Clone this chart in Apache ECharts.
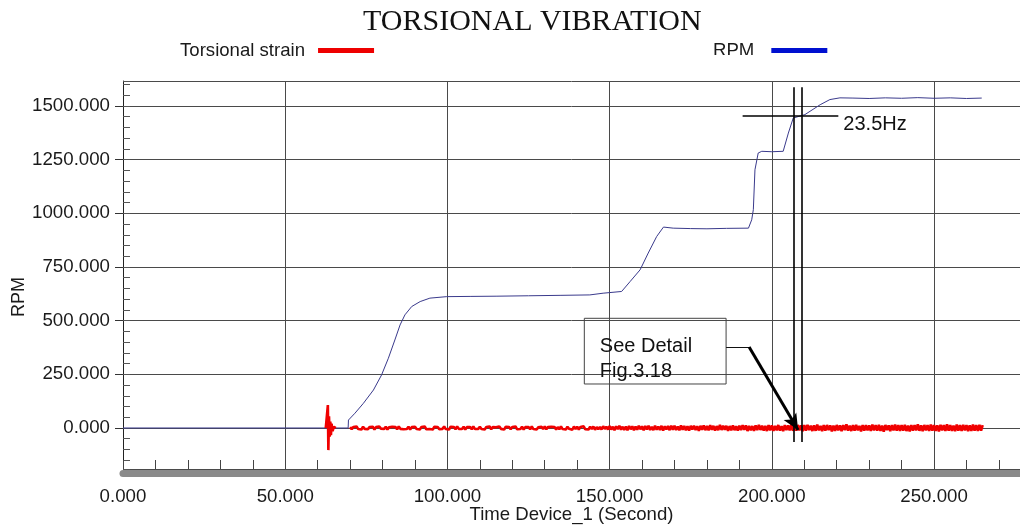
<!DOCTYPE html>
<html>
<head>
<meta charset="utf-8">
<script src="https://cdn.jsdelivr.net/npm/echarts@6/dist/echarts.min.js"></script>
<style>
html,body{margin:0;padding:0;background:#fff;}
#chart{width:1020px;height:527px;}
</style>
</head>
<body>
<div id="chart"></div>
<script>
// ---------- data ----------
const chartTitle = 'TORSIONAL VIBRATION';
const seriesNames = ['Torsional strain', 'RPM'];
const xAxisName = 'Time Device_1 (Second)';
const yAxisName = 'RPM';

// RPM trace: time (s) and speed
const rpmTime = [0, 69.4, 69.5, 71.5, 74.1, 77.2, 79.7, 81.8, 83.8, 85.4, 86.9, 89.0, 91.6, 94.6, 99.8,
  107, 115, 125, 135, 143.9, 148, 153.7, 156.3, 159.4, 161.9, 164.5, 166.6, 169.6, 175, 180, 186,
  192.8, 193.8, 194.3, 194.8, 195.8, 196.9, 200, 203.5, 205.1, 206.6, 210.2, 214.9, 217.9, 221,
  225, 230, 235, 240, 245, 250, 255, 260, 264.7];
const rpmValue = [0, 0, 37, 69, 115, 177, 247, 325, 410, 480, 527, 566, 589, 605, 612,
  613, 614, 616, 618, 620, 628, 636, 682, 737, 815, 892, 936, 931, 929, 928, 930,
  931, 970, 1017, 1203, 1281, 1289, 1287, 1289, 1374, 1444, 1460, 1506, 1530, 1538,
  1537, 1535, 1538, 1536, 1539, 1536, 1538, 1535, 1537];

// Torsional strain: start-up spike
const strainSpikeTime = [62.5, 63.0, 63.15, 63.3, 63.5, 63.7, 63.9, 64.1, 64.3, 64.6, 65.0, 65.6];
const strainSpikeValue = [0, 0, 107, -103, 55, -40, 30, -33, 20, -15, 6, 0];
// Torsional strain: sampled every 0.5 s from 70 s
const strainNoiseStart = 70;
const strainNoiseStep = 0.5;
const strainNoise = [
  4,-6,5,-3,7,-5,2,-7,6,-4,3,-6,5,-2,6,-7,4,-5,7,-3,
  5,-4,6,-7,3,-5,6,-2,4,-6,7,-4,5,-6,2,-5,6,-7,4,-3,
  6,-5,3,-7,5,-4,7,-6,2,-5,4,-7,6,-3,5,-6,3,-4,7,-5,
  4,-7,6,-3,5,-6,7,-4,3,-5,6,-7,4,-2,5,-6,7,-5,3,-4,
  6,-5,4,-7,5,-3,7,-6,4,-5,3,-6,7,-4,5,-7,6,-3,4,-6,
  5,-4,7,-6,3,-5,6,-7,4,-3,5,-6,7,-5,4,-7,3,-4,6,-5,
  7,-6,4,-5,6,-3,5,-7,4,-6,8,-5,3,-7,6,-4,5,-8,7,-5,
  6,-7,5,-4,8,-6,3,-7,6,-5,7,-8,4,-6,5,-7,8,-4,6,-7,
  9,-7,6,-10,8,-5,10,-8,6,-9,7,-11,9,-6,8,-10,7,-8,10,-6,
  8,-11,9,-7,10,-9,6,-10,11,-8,7,-9,10,-12,8,-7,9,-10,11,-8,
  10,-9,7,-11,12,-8,9,-10,8,-12,10,-7,11,-9,8,-13,10,-8,12,-10,
  9,-11,13,-8,10,-12,9,-10,14,-9,11,-8,10,-13,9,-11,12,-10,8,-12,
  11,-10,13,-9,12,-14,10,-11,9,-13,12,-10,15,-9,11,-12,10,-14,13,-11,
  12,-13,10,-11,14,-12,9,-15,13,-10,12,-11,16,-13,10,-12,14,-11,12,-15,
  13,-12,15,-10,11,-14,12,-13,16,-11,10,-15,13,-12,14,-10,12,-16,11,-13,
  14,-11,12,-15,13,-10,17,-12,11,-14,13,-12,15,-11,10,-16,14,-12,13,-11,
  12,-14,16,-11,13,-12,15,-13,11,-17,14,-10,12,-15,13,-11,16,-12,14,-13,
  13,-12,15,-14,11,-16,14,-12,13,-11,17,-13,12,-15,14,-11,13,-14,16,-12,
  14,-13,12,-16,15,-11,13,-14,17,-12,14,-13,11,-15,16,-12,13,-14,15,-11,
  13,-15,12,-14,16,-12,14,-13,15,-12,13
];

// axis ranges and tick steps
const xRange = [0, 276.5];
const yRange = [-191, 1616.5];
const xMajorStep = 50, xMinorStep = 10;
const yMajorStep = 250, yMinorStep = 50;

// annotations (data coordinates)
const cursorTimes = [206.8, 209.2];
const cursorSpan = [1587, -65];
const freqLine = { t: [191.0, 220.5], v: 1453, text: '23.5Hz' };
const noteBox = { t: [142.2, 185.9], v: [511, 205], text: 'See Detail\nFig.3.18' };
const leader = { t: [185.9, 193.0, 208.1], v: [377, 377, -9] };

// ---------- build ----------
const rpmData = rpmTime.map((t, i) => [t, rpmValue[i]]);
const strainData = strainSpikeTime.map((t, i) => [t, strainSpikeValue[i]]);
strainData.push([67, null]);
strainNoise.forEach((v, i) => strainData.push([strainNoiseStart + i * strainNoiseStep, v]));

const FONT = 'Liberation Sans, Arial, sans-serif';
const txt = '#1a1a1a';
const fmt = v => v.toFixed(3);

const chart = echarts.init(document.getElementById('chart'), null, { renderer: 'canvas' });
chart.setOption({
  animation: false,
  backgroundColor: '#fff',
  title: {
    text: chartTitle, left: 363, top: 7, padding: 0,
    textStyle: { fontFamily: 'Liberation Serif, Times New Roman, serif', fontSize: 30, fontWeight: 'normal', color: '#111' }
  },
  legend: [
    { data: [{ name: seriesNames[0], itemStyle: { color: '#ee0000' } }], left: 180, top: 41, padding: 0, align: 'right',
      icon: 'rect', itemWidth: 56, itemHeight: 5, selectedMode: false,
      textStyle: { fontFamily: FONT, fontSize: 18.6, color: txt, padding: [0, 8, 0, 0] } },
    { data: [{ name: seriesNames[1], itemStyle: { color: '#0010d0' } }], left: 713, top: 41, padding: 0, align: 'right',
      icon: 'rect', itemWidth: 56, itemHeight: 5, selectedMode: false,
      textStyle: { fontFamily: FONT, fontSize: 18.6, color: txt, padding: [0, 12, 0, 0] } }
  ],
  graphic: [
    { type: 'rect', left: 700, top: 55, shape: { width: 65, height: 12 }, style: { fill: '#fff' }, z: 100 }
  ],
  grid: { left: 123, right: 0, top: 81, bottom: 58, containLabel: false, outerBoundsMode: 'none' },
  xAxis: [
    {
      type: 'value', min: xRange[0], max: xRange[1], interval: xMajorStep, position: 'bottom', offset: 4,
      name: xAxisName, nameLocation: 'middle', nameGap: 32, nameMoveOverlap: false,
      nameTextStyle: { fontFamily: FONT, fontSize: 18.6, color: txt },
      axisLine: { show: true, onZero: false, lineStyle: { color: '#8a8a8a', width: 7 } },
      axisTick: { show: false },
      axisLabel: { formatter: fmt, fontFamily: FONT, fontSize: 18.7, color: txt, margin: 14, showMaxLabel: false },
      splitLine: { show: true, lineStyle: { color: '#4a4a4a', width: 1 } }
    },
    {
      type: 'value', min: xRange[0], max: xRange[1], interval: xMinorStep, position: 'bottom', offset: 0,
      axisLine: { show: false, onZero: false },
      axisTick: { show: true, inside: true, length: 9, lineStyle: { color: '#444', width: 1 } },
      axisLabel: { show: false }, splitLine: { show: false }
    }
  ],
  yAxis: [
    {
      type: 'value', min: yRange[0], max: yRange[1], minInterval: yMajorStep, maxInterval: yMajorStep, splitNumber: 7,
      position: 'left',
      name: yAxisName, nameLocation: 'middle', nameGap: 95, nameRotate: 90, nameMoveOverlap: false,
      nameTextStyle: { fontFamily: FONT, fontSize: 18, color: txt, padding: [0, 44, 0, 0] },
      axisLine: { show: true, onZero: false, lineStyle: { color: '#222', width: 1 } },
      axisTick: { show: true, inside: false, length: 8, lineStyle: { color: '#333' } },
      axisLabel: { formatter: fmt, fontFamily: FONT, fontSize: 18.7, color: txt, margin: 13, showMinLabel: false, showMaxLabel: false },
      splitLine: { show: true, lineStyle: { color: '#4a4a4a', width: 1 } }
    },
    {
      type: 'value', min: yRange[0], max: yRange[1], minInterval: yMinorStep, maxInterval: yMinorStep, splitNumber: 36,
      position: 'left', offset: 0,
      axisLine: { show: false, onZero: false },
      axisTick: { show: true, inside: true, length: 7, lineStyle: { color: '#555', width: 1 } },
      axisLabel: { show: false }, splitLine: { show: false }
    }
  ],
  series: [
    {
      name: seriesNames[1], type: 'line', xAxisIndex: 0, yAxisIndex: 0, data: rpmData,
      showSymbol: false, symbol: 'none', smooth: false, z: 2,
      itemStyle: { color: '#0010d0' },
      lineStyle: { color: '#3a3a8c', width: 1 },
      markLine: {
        silent: true, animation: false, symbol: ['none', 'none'],
        label: { show: false }, emphasis: { disabled: true },
        lineStyle: { color: '#000', width: 1.6, type: 'solid' },
        data: [
          [{ coord: [cursorTimes[0], cursorSpan[0]] }, { coord: [cursorTimes[0], cursorSpan[1]] }],
          [{ coord: [cursorTimes[1], cursorSpan[0]] }, { coord: [cursorTimes[1], cursorSpan[1]] }],
          [{ coord: [freqLine.t[0], freqLine.v] },
           { coord: [freqLine.t[1], freqLine.v],
             label: { show: true, position: 'end', distance: 5, formatter: freqLine.text, offset: [0, 8],
                      fontFamily: FONT, fontSize: 20, color: '#111' } }],
          [{ coord: [leader.t[0], leader.v[0]], lineStyle: { width: 1, color: '#111' } },
           { coord: [leader.t[1], leader.v[1]] }],
          [{ coord: [leader.t[1], leader.v[1]], lineStyle: { width: 3, color: '#000' } },
           { coord: [leader.t[2], leader.v[2]], symbol: 'arrow', symbolSize: [11, 16] }]
        ]
      },
      markArea: {
        silent: true,
        itemStyle: { color: 'rgba(0,0,0,0)', borderColor: '#444', borderWidth: 1 },
        label: { show: true, position: 'insideLeft', distance: 16, formatter: noteBox.text, offset: [0, 8],
                 fontFamily: FONT, fontSize: 20, lineHeight: 25, color: '#111' },
        emphasis: { disabled: true },
        data: [[{ coord: [noteBox.t[0], noteBox.v[0]] }, { coord: [noteBox.t[1], noteBox.v[1]] }]]
      }
    },
    {
      name: seriesNames[0], type: 'line', xAxisIndex: 0, yAxisIndex: 0, data: strainData,
      showSymbol: false, symbol: 'none', connectNulls: false, z: 3,
      itemStyle: { color: '#ee0000' },
      lineStyle: { color: '#f00000', width: 2.6 }
    }
  ]
});
</script>
</body>
</html>
